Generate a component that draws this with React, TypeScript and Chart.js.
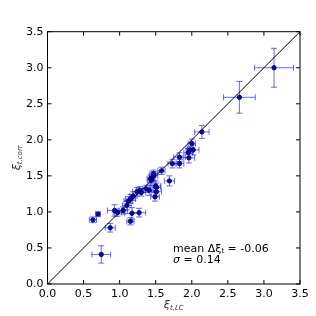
import React, { useEffect, useRef } from "react";
import { Chart, registerables } from "chart.js";
Chart.register(...registerables);

const xLC = [0.63, 0.70, 0.745, 0.87, 0.93, 0.97, 1.05, 1.10, 1.12, 1.15, 1.15, 1.17, 1.19, 1.24, 1.27, 1.28, 1.30, 1.37, 1.41, 1.43, 1.44, 1.47, 1.47, 1.49, 1.50, 1.51, 1.51, 1.58, 1.69, 1.73, 1.83, 1.83, 1.95, 1.96, 1.97, 2.02, 2.00, 2.14, 2.66, 3.14];
const yCorr = [0.89, 0.97, 0.41, 0.78, 1.02, 0.99, 1.02, 1.09, 1.15, 1.18, 0.87, 0.98, 1.22, 1.28, 0.99, 1.30, 1.27, 1.32, 1.30, 1.46, 1.44, 1.50, 1.53, 1.21, 1.36, 1.28, 1.34, 1.57, 1.43, 1.67, 1.67, 1.76, 1.82, 1.75, 1.86, 1.86, 1.95, 2.11, 2.59, 3.00];
const xErr = [0.05, 0.03, 0.13, 0.07, 0.10, 0.06, 0.06, 0.06, 0.06, 0.07, 0.05, 0.10, 0.05, 0.06, 0.09, 0.05, 0.06, 0.05, 0.06, 0.05, 0.05, 0.06, 0.05, 0.06, 0.07, 0.07, 0.06, 0.05, 0.07, 0.06, 0.06, 0.08, 0.06, 0.08, 0.05, 0.08, 0.05, 0.10, 0.22, 0.27];
const yErr = [0.04, 0.03, 0.12, 0.06, 0.08, 0.05, 0.05, 0.06, 0.06, 0.06, 0.05, 0.08, 0.06, 0.06, 0.06, 0.05, 0.05, 0.05, 0.07, 0.05, 0.05, 0.06, 0.05, 0.06, 0.07, 0.06, 0.06, 0.05, 0.07, 0.06, 0.06, 0.06, 0.06, 0.07, 0.05, 0.07, 0.06, 0.09, 0.22, 0.27];
const tickValues = [0, 0.5, 1.0, 1.5, 2.0, 2.5, 3.0, 3.5];
const diagonal = [0, 3.5];
const meanText = ["mean Δξ", "t", " = -0.06"];
const sigmaText = ["σ", " = 0.14"];
const xLabel = ["ξ", "t,LC"];
const yLabel = ["ξ", "t,corr"];

const FONT = "'DejaVu Sans', sans-serif";

const errorBarPlugin = {
  id: "errorBars",
  beforeDatasetsDraw(chart: any) {
    const xs = chart.scales.x;
    const ys = chart.scales.y;
    const ctx = chart.ctx;
    ctx.save();
    ctx.strokeStyle = "rgba(40,40,255,0.7)";
    ctx.lineWidth = 1;
    const cap = 3;
    for (let i = 0; i < xLC.length; i++) {
      const px = xs.getPixelForValue(xLC[i]);
      const py = ys.getPixelForValue(yCorr[i]);
      const x0 = xs.getPixelForValue(xLC[i] - xErr[i]);
      const x1 = xs.getPixelForValue(xLC[i] + xErr[i]);
      const y0 = ys.getPixelForValue(yCorr[i] - yErr[i]);
      const y1 = ys.getPixelForValue(yCorr[i] + yErr[i]);
      ctx.beginPath();
      ctx.moveTo(x0, py); ctx.lineTo(x1, py);
      ctx.moveTo(x0, py - cap); ctx.lineTo(x0, py + cap);
      ctx.moveTo(x1, py - cap); ctx.lineTo(x1, py + cap);
      ctx.moveTo(px, y0); ctx.lineTo(px, y1);
      ctx.moveTo(px - cap, y0); ctx.lineTo(px + cap, y0);
      ctx.moveTo(px - cap, y1); ctx.lineTo(px + cap, y1);
      ctx.stroke();
    }
    ctx.restore();
  },
};

function drawSub(ctx: any, parts: string[], x: number, y: number, main: string, sub: string, subAfter?: string) {
  ctx.font = main;
  ctx.fillText(parts[0], x, y);
  let w = ctx.measureText(parts[0]).width;
  ctx.font = sub;
  ctx.fillText(parts[1], x + w, y + 3);
  w += ctx.measureText(parts[1]).width;
  if (parts[2] !== undefined && subAfter) {
    ctx.font = subAfter;
    ctx.fillText(parts[2], x + w, y);
  }
}

const framePlugin = {
  id: "frame",
  afterDatasetsDraw(chart: any) {
    const { ctx, chartArea: a } = chart;
    const xs = chart.scales.x;
    const ys = chart.scales.y;
    ctx.save();
    ctx.strokeStyle = "#000";
    ctx.lineWidth = 1;
    ctx.strokeRect(a.left, a.top, a.right - a.left, a.bottom - a.top);
    const tl = 4;
    ctx.beginPath();
    for (const v of tickValues) {
      const px = xs.getPixelForValue(v);
      ctx.moveTo(px, a.bottom); ctx.lineTo(px, a.bottom - tl);
      ctx.moveTo(px, a.top); ctx.lineTo(px, a.top + tl);
      const py = ys.getPixelForValue(v);
      ctx.moveTo(a.left, py); ctx.lineTo(a.left + tl, py);
      ctx.moveTo(a.right, py); ctx.lineTo(a.right - tl, py);
    }
    ctx.stroke();

    // annotations
    ctx.fillStyle = "#000";
    ctx.textBaseline = "middle";
    ctx.textAlign = "left";
    const tx = xs.getPixelForValue(1.74);
    const ty1 = ys.getPixelForValue(0.49);
    const ty2 = ys.getPixelForValue(0.33);
    drawSub(ctx, meanText, tx, ty1, `11px ${FONT}`, `7px ${FONT}`, `11px ${FONT}`);
    ctx.font = `italic 11px ${FONT}`;
    ctx.fillText(sigmaText[0], tx, ty2);
    const sw = ctx.measureText(sigmaText[0]).width;
    ctx.font = `11px ${FONT}`;
    ctx.fillText(sigmaText[1], tx + sw, ty2);

    // x label
    ctx.fillStyle = "#333";
    ctx.font = `italic 11px ${FONT}`;
    const xw0 = ctx.measureText(xLabel[0]).width;
    ctx.font = `italic 7px ${FONT}`;
    const xw1 = ctx.measureText(xLabel[1]).width;
    const xcx = (a.left + a.right) / 2 - (xw0 + xw1) / 2;
    ctx.font = `italic 11px ${FONT}`;
    ctx.fillText(xLabel[0], xcx, 305);
    ctx.font = `italic 7px ${FONT}`;
    ctx.fillText(xLabel[1], xcx + xw0, 308);

    // y label
    ctx.save();
    ctx.translate(17, (a.top + a.bottom) / 2);
    ctx.rotate(-Math.PI / 2);
    ctx.font = `italic 11px ${FONT}`;
    const yw0 = ctx.measureText(yLabel[0]).width;
    ctx.font = `italic 7px ${FONT}`;
    const yw1 = ctx.measureText(yLabel[1]).width;
    const ycx = -(yw0 + yw1) / 2;
    ctx.font = `italic 11px ${FONT}`;
    ctx.fillText(yLabel[0], ycx, 0);
    ctx.font = `italic 7px ${FONT}`;
    ctx.fillText(yLabel[1], ycx + yw0, 3);
    ctx.restore();

    ctx.restore();
  },
};

export default function App() {
  const ref = useRef<HTMLCanvasElement>(null);
  useEffect(() => {
    document.body.style.margin = "0";
    const points = xLC.map((x, i) => ({ x, y: yCorr[i] }));
    const chart = new Chart(ref.current!, {
      type: "scatter",
      data: {
        datasets: [
          {
            type: "line",
            data: diagonal.map((v) => ({ x: v, y: v })),
            borderColor: "#000",
            borderWidth: 1,
            pointRadius: 0,
            order: 0,
          } as any,
          {
            data: points,
            backgroundColor: "#0a0ab4",
            borderColor: "#00004a",
            borderWidth: 0.8,
            pointRadius: 2.2,
            order: 1,
          },
        ],
      },
      options: {
        animation: false,
        responsive: false,
        devicePixelRatio: 1,
        layout: { padding: { top: 31.7, right: 16, left: 0, bottom: 0 } },
        plugins: { legend: { display: false }, tooltip: { enabled: false } },
        scales: {
          x: {
            type: "linear",
            min: 0,
            max: 3.5,
            afterBuildTicks: (s: any) => { s.ticks = tickValues.map((v) => ({ value: v })); },
            afterFit: (s: any) => { s.height = 32; },
            grid: { display: false, drawTicks: false },
            border: { display: false },
            ticks: {
              padding: 4,
              color: "#000",
              font: { family: FONT, size: 11 },
              callback: (v: any) => Number(v).toFixed(1),
              maxRotation: 0,
            },
          },
          y: {
            type: "linear",
            min: 0,
            max: 3.5,
            afterBuildTicks: (s: any) => { s.ticks = tickValues.map((v) => ({ value: v })); },
            afterFit: (s: any) => { s.width = 47.5; },
            grid: { display: false, drawTicks: false },
            border: { display: false },
            ticks: {
              padding: 4,
              color: "#000",
              font: { family: FONT, size: 11 },
              callback: (v: any) => Number(v).toFixed(1),
            },
          },
        },
      },
      plugins: [errorBarPlugin, framePlugin],
    });
    return () => chart.destroy();
  }, []);
  return (
    <div style={{ position: "absolute", left: 0, top: 0, width: 316, height: 316, background: "#fff" }}>
      <canvas ref={ref} width={316} height={316} />
    </div>
  );
}
